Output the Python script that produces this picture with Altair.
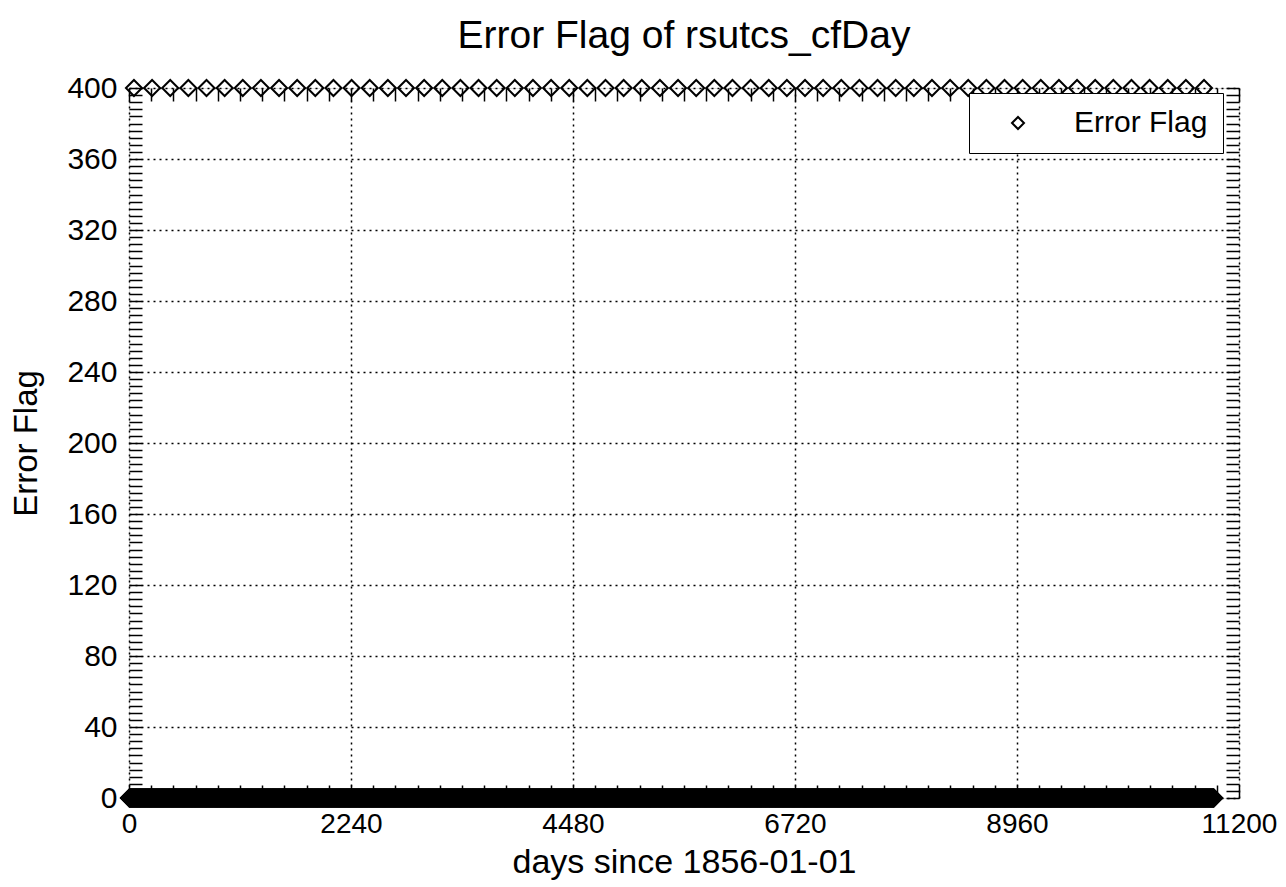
import altair as alt
import pandas as pd

# ---- data ----
# daily samples with error flag 0 (days 0 .. 10949)
ok_days = list(range(0, 10950))
ok_flags = [0] * len(ok_days)

# samples with error flag 400 (roughly every half year)
err_days = [50, 233, 416, 599, 782, 965, 1148, 1331, 1514, 1697, 1880, 2063,
            2246, 2429, 2612, 2795, 2978, 3161, 3344, 3527, 3710, 3893, 4076,
            4259, 4442, 4625, 4808, 4991, 5174, 5357, 5540, 5723, 5906, 6089,
            6272, 6455, 6638, 6821, 7004, 7187, 7370, 7553, 7736, 7919, 8102,
            8285, 8468, 8651, 8834, 9017, 9200, 9383, 9566, 9749, 9932, 10115,
            10298, 10481, 10664, 10847]
err_flags = [400] * len(err_days)

x_major = [0, 2240, 4480, 6720, 8960, 11200]
x_minor = list(range(0, 11201, 224))
y_major = [0, 40, 80, 120, 160, 200, 240, 280, 320, 360, 400]
y_minor = list(range(0, 401, 4))

series_name = "Error Flag"

df = pd.DataFrame({
    "day": ok_days + err_days,
    "flag": ok_flags + err_flags,
    "series": [series_name] * (len(ok_days) + len(err_days)),
})
df_small = pd.DataFrame({"day": err_days, "flag": err_flags})

FONT = "Liberation Sans"
xs = alt.Scale(domain=[0, 11200], nice=False, zero=False)
ys = alt.Scale(domain=[0, 400], nice=False, zero=False)
TICK = 13

points = alt.Chart(df).mark_point(
    shape="diamond", filled=False, size=256, strokeWidth=2, opacity=1, clip=False
).encode(
    x=alt.X("day:Q", scale=xs, axis=alt.Axis(
        values=x_major, orient="bottom", grid=True, gridColor="black",
        gridDash=[2, 4], gridWidth=1.5, gridOpacity=1, ticks=False, domain=False,
        labelFontSize=28, labelPadding=12, labelFlush=False, labelOverlap=False,
        labelColor="black", labelFont=FONT, format="d",
        title="days since 1856-01-01", titleFontSize=34, titleFont=FONT,
        titleFontWeight="normal", titleColor="black", titlePadding=7)),
    y=alt.Y("flag:Q", scale=ys, axis=alt.Axis(
        values=y_major, orient="left", grid=True, gridColor="black",
        gridDash=[2, 4], gridWidth=1.5, gridOpacity=1, ticks=False, domain=False,
        labelFontSize=30, labelPadding=12, labelFlush=False, labelOverlap=False,
        labelColor="black", labelFont=FONT, format="d",
        title="Error Flag", titleFontSize=33, titleFont=FONT,
        titleFontWeight="normal", titleColor="black", titlePadding=23)),
    color=alt.Color("series:N", scale=alt.Scale(range=["black"]), legend=alt.Legend(
        title=None, orient="none", legendX=840, legendY=5, fillColor="white",
        strokeColor="black", padding=15, labelFontSize=30, labelFont=FONT,
        labelColor="black", symbolSize=144, symbolStrokeWidth=2,
        symbolType="diamond", symbolStrokeColor="black", labelOffset=41,
        symbolOffset=19, cornerRadius=0)),
)

minor_in = alt.Chart(df_small).mark_point(opacity=0).encode(
    x=alt.X("day:Q", scale=xs, axis=alt.Axis(
        values=x_minor, orient="bottom", offset=-TICK, tickSize=TICK, ticks=True,
        tickColor="black", tickWidth=1.5, labels=False, domain=False, grid=False,
        title=None)),
    y=alt.Y("flag:Q", scale=ys, axis=alt.Axis(
        values=y_minor, orient="left", offset=-TICK, tickSize=TICK, ticks=True,
        tickColor="black", tickWidth=1.5, labels=False, domain=False, grid=False,
        title=None)),
)

minor_out = alt.Chart(df_small).mark_point(opacity=0).encode(
    x=alt.X("day:Q", scale=xs, axis=alt.Axis(
        values=x_minor, orient="top", offset=-TICK, tickSize=TICK, ticks=True,
        tickColor="black", tickWidth=1.5, labels=False, domain=False, grid=False,
        title=None)),
    y=alt.Y("flag:Q", scale=ys, axis=alt.Axis(
        values=y_minor, orient="right", offset=-TICK, tickSize=TICK, ticks=True,
        tickColor="black", tickWidth=1.5, labels=False, domain=False, grid=False,
        title=None)),
)

chart = alt.layer(minor_in, minor_out, points).resolve_axis(
    x="independent", y="independent"
).properties(
    width=1110,
    height=710,
    autosize=alt.AutoSizeParams(type="none"),
    padding={"left": 121, "top": 80, "right": 39, "bottom": 85},
    title=alt.TitleParams(
        "Error Flag of rsutcs_cfDay", fontSize=39, font=FONT,
        fontWeight="normal", color="black", anchor="middle", offset=17),
).configure_view(
    stroke="black", strokeWidth=2
).configure(font=FONT)

chart.save("out.html", embed_options={"renderer": "svg", "actions": False})
